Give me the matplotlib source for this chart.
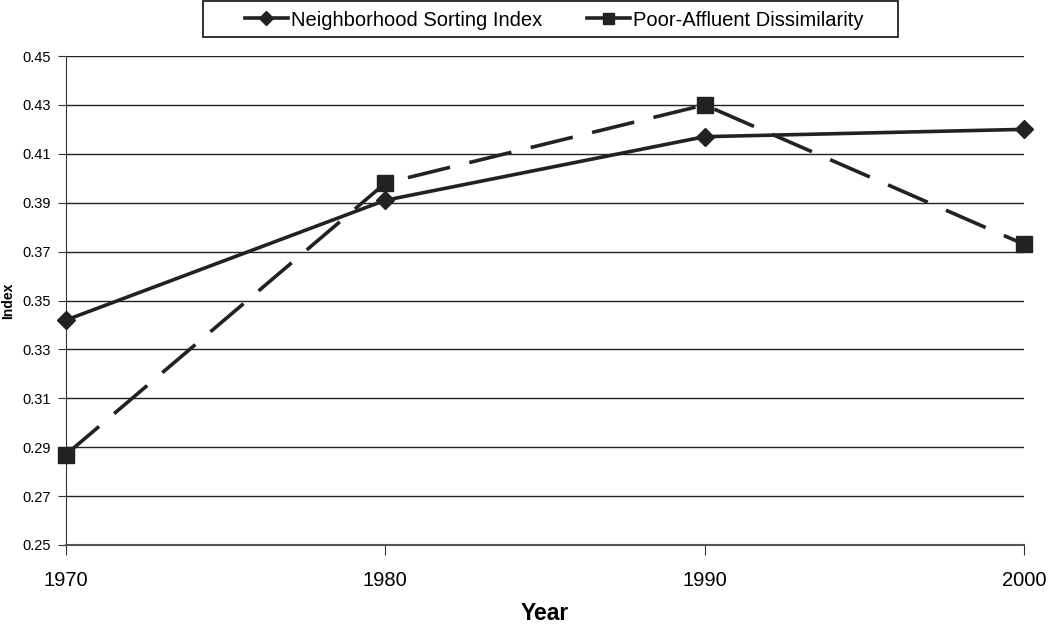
import matplotlib.pyplot as plt
from matplotlib.patches import Rectangle

plt.rcParams['font.family'] = ['Liberation Sans', 'DejaVu Sans']

# ── Data ────────────────────────────────────────────────────────────────
years = [1970, 1980, 1990, 2000]
nsi = [0.342, 0.391, 0.417, 0.420]          # Neighborhood Sorting Index
pad = [0.287, 0.398, 0.430, 0.373]          # Poor-Affluent Dissimilarity
y_ticks = [0.25, 0.27, 0.29, 0.31, 0.33, 0.35, 0.37, 0.39, 0.41, 0.43, 0.45]

# ── Plot ────────────────────────────────────────────────────────────────
fig = plt.figure(figsize=(10.5, 6.27), dpi=100)
ax = fig.add_axes([66 / 1050, 1 - 545 / 627, (1024 - 66) / 1050, (545 - 56) / 627])

col = '#222222'
ax.plot(years, nsi, '-', color=col, lw=2.6, marker='D', markersize=9.5,
        label='Neighborhood Sorting Index', zorder=3, clip_on=False)
ax.plot(years, pad, '--', color=col, lw=2.6, marker='s', markersize=11,
        dashes=(12, 5.5), label='Poor-Affluent Dissimilarity', zorder=3, clip_on=False)

ax.set_xlim(1970, 2000)
ax.set_ylim(0.25, 0.45)
ax.set_xticks(years)
ax.set_yticks(y_ticks)
ax.set_yticklabels([f'{v:.2f}' for v in y_ticks], fontsize=10.5)
ax.tick_params(axis='x', labelsize=14.5, length=7, pad=12, color='#333333')
ax.tick_params(axis='y', length=6, pad=5, color='#333333')

for v in y_ticks[1:]:
    ax.axhline(v, color='#222222', lw=1.0, zorder=1)

for s in ['top', 'right']:
    ax.spines[s].set_visible(False)
ax.spines['left'].set_color('#333333')
ax.spines['bottom'].set_color('#555555')
ax.spines['bottom'].set_linewidth(1.5)

ax.set_xlabel('Year', fontsize=16.5, fontweight='bold', labelpad=8)
ax.set_ylabel('Index', fontsize=10, fontweight='bold', labelpad=5)

# legend with a separate, wider frame like the original
leg = fig.legend(loc='center', bbox_to_anchor=(0.5276, 1 - 20 / 627), ncol=2,
                 fontsize=14.5, frameon=False, handlelength=2.15, columnspacing=2.2,
                 handletextpad=0.15, markerscale=0.72)
for h in leg.legend_handles:
    h.set_linestyle('-')
fig.patches.append(Rectangle((203 / 1050, 1 - 37 / 627), 695 / 1050, 36 / 627,
                             transform=fig.transFigure, fill=False,
                             edgecolor='#222222', lw=1.3))

plt.savefig('out.png', dpi=100)
